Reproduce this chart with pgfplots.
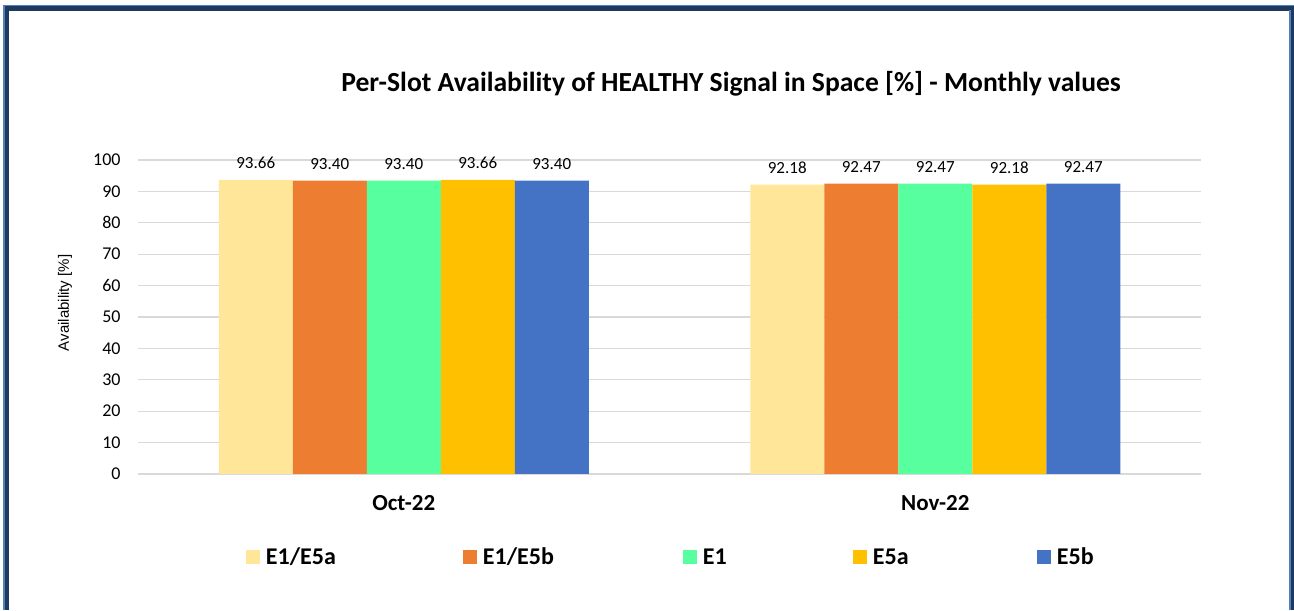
\documentclass[border=0pt]{standalone}
\usepackage{pgfplots}
\pgfplotsset{compat=1.18}
\usepackage{fontspec}
\setmainfont{Carlito}
\newfontfamily\arialf{Liberation Sans}
\definecolor{cA}{HTML}{FFE699}
\definecolor{cB}{HTML}{ED7D31}
\definecolor{cC}{HTML}{57FF9E}
\definecolor{cD}{HTML}{FFC000}
\definecolor{cE}{HTML}{4472C4}
\definecolor{gridc}{HTML}{D9D9D9}
\definecolor{navyF}{HTML}{1F3A5F}
\definecolor{lightF}{HTML}{4F81BD}
\begin{document}
\begin{tikzpicture}
\useasboundingbox (0,0) rectangle (647pt,305pt);
% frame
\fill[lightF] (1.5pt,0) rectangle (2.5pt,302.5pt);
\fill[navyF] (2.5pt,0) rectangle (4.5pt,302pt);
\fill[lightF] (1.5pt,302pt) rectangle (647pt,302.5pt);
\fill[navyF] (2.5pt,299.5pt) rectangle (647pt,302pt);
\fill[lightF] (644.5pt,0) rectangle (645.5pt,300pt);
\fill[navyF] (645.5pt,0) rectangle (647pt,302pt);
\node[font=\fontsize{13.8}{15}\selectfont\bfseries] at (365.5pt,263pt) {Per-Slot Availability of HEALTHY Signal in Space [\%] - Monthly values};
\begin{axis}[
  at={(69pt,68pt)}, anchor=south west, scale only axis,
  width=531.5pt, height=157pt,
  ybar=0pt, bar width=37pt,
  xmin=-0.5, xmax=1.5, ymin=0, ymax=100,
  xtick={0,1}, xticklabels={Oct-22,Nov-22},
  ytick={0,10,...,100},
  ymajorgrids, grid style={draw=gridc, line width=0.6pt},
  axis line style={draw=none}, major tick length=0pt,
  tick style={draw=none},
  xticklabel style={font=\fontsize{11.5}{12}\selectfont\bfseries, anchor=center, inner sep=0pt, yshift=-14.5pt},
  yticklabel style={font=\fontsize{9}{10}\selectfont, anchor=east, inner sep=0pt, xshift=-8.5pt},
  /pgf/number format/assume math mode=true,
  ylabel={Availability [\%]},
  ylabel style={font=\arialf\fontsize{7.5}{8}\selectfont, at={(axis description cs:-0.0687,0.545)}, anchor=center},
  nodes near coords={\pgfmathprintnumber[fixed,fixed zerofill,precision=2]{\pgfplotspointmeta}},
  nodes near coords style={font=\fontsize{8.5}{9}\selectfont, yshift=2pt, /pgf/number format/assume math mode=true},
  legend columns=5,
  legend style={at={(axis description cs:0.1016,-0.2675)}, anchor=west, draw=none, fill=none,
    inner sep=0pt, outer sep=0pt, column sep=0pt, nodes={inner sep=0pt},
    font=\fontsize{12}{13}\selectfont\bfseries},
  legend image code/.code={\fill[#1] (0pt,-3pt) rectangle (7pt,4pt);},
]
\addplot[fill=cA, draw=none] coordinates {(0,93.66) (1,92.18)};
\addplot[fill=cB, draw=none] coordinates {(0,93.40) (1,92.47)};
\addplot[fill=cC, draw=none] coordinates {(0,93.40) (1,92.47)};
\addplot[fill=cD, draw=none] coordinates {(0,93.66) (1,92.18)};
\addplot[fill=cE, draw=none] coordinates {(0,93.40) (1,92.47)};
\addlegendentry{\hspace{3pt}\makebox[98.5pt][l]{E1/E5a}}
\addlegendentry{\hspace{3pt}\makebox[100pt][l]{E1/E5b}}
\addlegendentry{\hspace{3pt}\makebox[75pt][l]{E1}}
\addlegendentry{\hspace{3pt}\makebox[82pt][l]{E5a}}
\addlegendentry{\hspace{3pt}E5b}
\end{axis}
\end{tikzpicture}
\end{document}
